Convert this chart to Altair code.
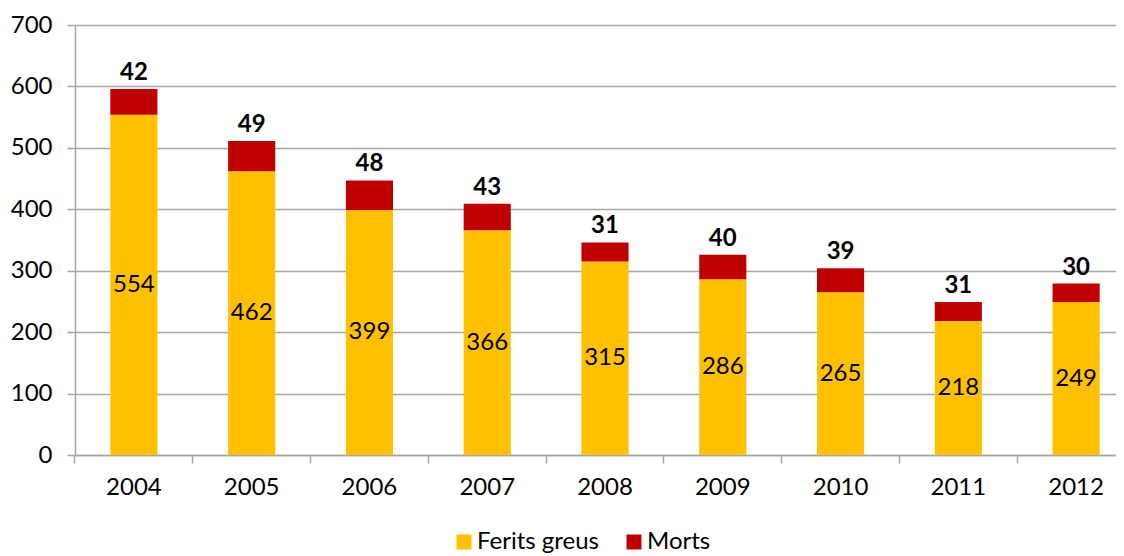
import altair as alt
import pandas as pd

years = ["2004", "2005", "2006", "2007", "2008", "2009", "2010", "2011", "2012"]
ferits = [554, 462, 399, 366, 315, 286, 265, 218, 249]
morts = [42, 49, 48, 43, 31, 40, 39, 31, 30]
series = ["Ferits greus", "Morts"]
colors = ["#FFC000", "#C00000"]

rows = []
for y, f, m in zip(years, ferits, morts):
    rows.append({"year": y, "serie": series[0], "value": f, "ord": 0})
    rows.append({"year": y, "serie": series[1], "value": m, "ord": 1})
long_df = pd.DataFrame(rows)

wide_df = pd.DataFrame({"year": years, "ferits": ferits, "morts": morts})
wide_df["mid"] = wide_df["ferits"] / 2
wide_df["total"] = wide_df["ferits"] + wide_df["morts"]

FONT = "Lato"
GRID = "#A6A6A6"

xscale = alt.Scale(domain=years, range=[0, 1060], paddingInner=0.6, paddingOuter=0.3)
yscale = alt.Scale(domain=[0, 700])

bars = alt.Chart(long_df).mark_bar().encode(
    x=alt.X("year:N", scale=xscale, sort=years,
            axis=alt.Axis(title=None, labelAngle=0, labelFont=FONT, labelFontSize=24,
                          labelColor="#000000", domainColor=GRID, domainWidth=1.5,
                          tickColor=GRID, tickWidth=1.5, tickSize=8, bandPosition=-0.75,
                          labelPadding=12, grid=False)),
    y=alt.Y("value:Q", stack="zero", scale=yscale,
            axis=alt.Axis(title=None, values=list(range(0, 701, 100)), labelFont=FONT,
                          labelFontSize=24, labelColor="#000000", domainColor=GRID,
                          domainWidth=1.5, tickColor=GRID, tickWidth=1.5, tickSize=8,
                          labelPadding=15, gridColor=GRID, gridWidth=1.5)),
    color=alt.Color("serie:N", scale=alt.Scale(domain=series, range=colors),
                    legend=alt.Legend(title=None, orient="none", legendX=377, legendY=505,
                                      direction="horizontal", symbolType="square",
                                      symbolSize=225, symbolStrokeWidth=0,
                                      labelFont=FONT, labelFontSize=24, labelColor="#000000",
                                      labelOffset=1, columnPadding=22, padding=0)),
    order=alt.Order("ord:Q"),
)

mid_labels = alt.Chart(wide_df).mark_text(font=FONT, fontSize=24, color="#000000",
                                          baseline="middle").encode(
    x=alt.X("year:N", scale=xscale, sort=years),
    y=alt.Y("mid:Q", scale=yscale),
    text=alt.Text("ferits:Q"),
)

top_labels = alt.Chart(wide_df).mark_text(font=FONT, fontSize=24, fontWeight="bold",
                                          color="#000000", baseline="alphabetic", dy=-9).encode(
    x=alt.X("year:N", scale=xscale, sort=years),
    y=alt.Y("total:Q", scale=yscale),
    text=alt.Text("morts:Q"),
)

chart = alt.layer(bars, mid_labels, top_labels).properties(
    width=1041, height=430,
    autosize=alt.AutoSizeParams(type="none"),
    padding={"left": 67, "top": 17, "right": 0, "bottom": 100},
).configure_view(stroke=None).configure(background="#FFFFFF")

chart.save("out.html", embed_options={"renderer": "svg", "actions": False})
